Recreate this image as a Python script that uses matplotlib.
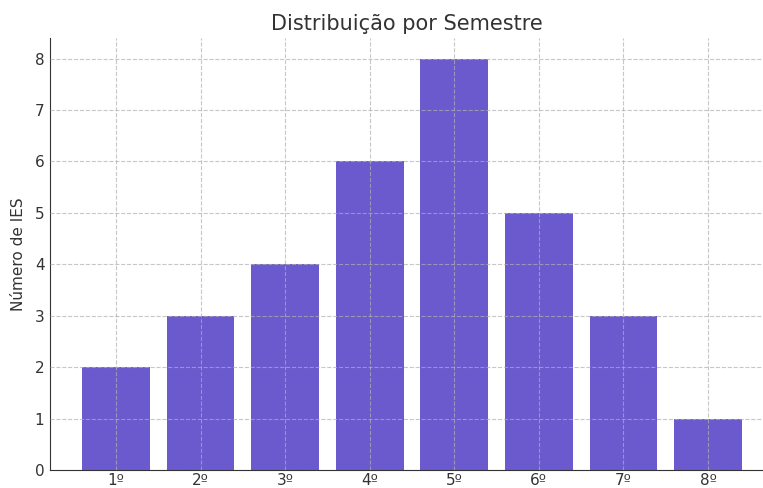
import matplotlib
matplotlib.use('Agg')
import matplotlib.pyplot as plt

semestres = ['1º', '2º', '3º', '4º', '5º', '6º', '7º', '8º']
num_ies = [2, 3, 4, 6, 8, 5, 3, 1]

text_color = '#333333'

fig = plt.figure(figsize=(7.63, 4.88), dpi=100)
ax = fig.add_axes([0.0655, 0.037, 0.9345, 0.885])

ax.bar(range(len(semestres)), num_ies, width=0.8, color='#6a5acd')
ax.set_xticks(range(len(semestres)))
ax.set_xticklabels(semestres)
ax.set_xlim(-0.78, 7.65)
ax.set_ylim(0, 8.4)

ax.grid(True, linestyle='--', color='#b0b0b0', alpha=0.7, linewidth=0.8)
ax.set_axisbelow(False)

for side in ['top', 'right']:
    ax.spines[side].set_visible(False)
for side in ['left', 'bottom']:
    ax.spines[side].set_color(text_color)
ax.tick_params(length=0, labelsize=11, colors=text_color)
ax.tick_params(axis='x', pad=2)
ax.tick_params(axis='y', pad=4)

ax.set_title('Distribuição por Semestre', fontsize=15, color=text_color, pad=6)
ax.set_ylabel('Número de IES', fontsize=11, color=text_color, labelpad=6)

fig.savefig('out.png', dpi=100)
